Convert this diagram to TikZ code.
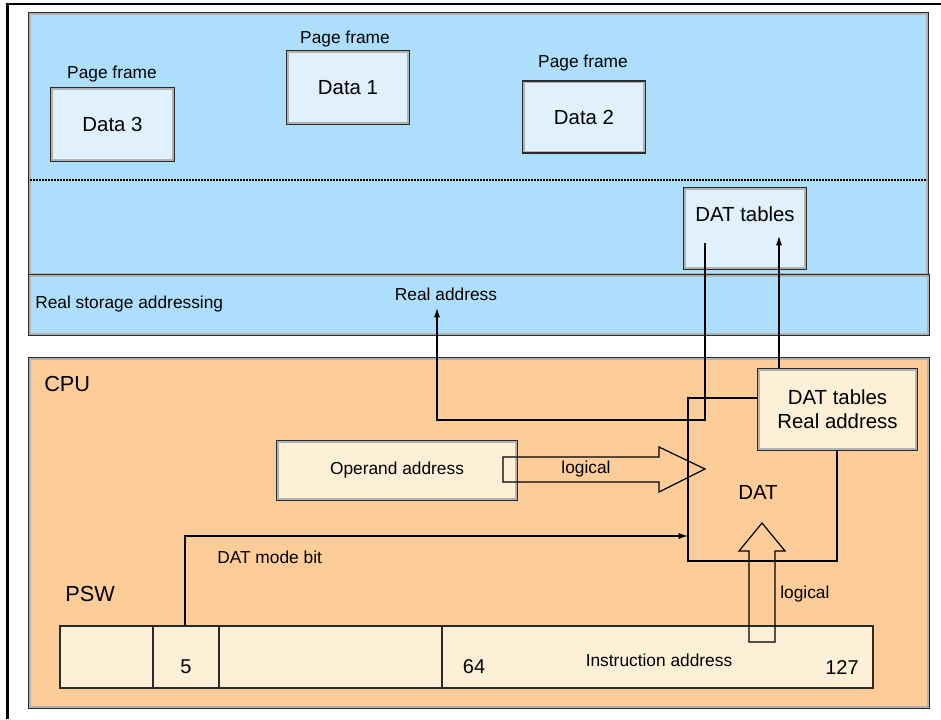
\documentclass[tikz,border=0pt]{standalone}
\usepackage{fontspec}
\setmainfont{Liberation Sans}
\usetikzlibrary{arrows.meta}
\definecolor{skyfill}{HTML}{ADDFFD}
\definecolor{skybox}{HTML}{E0F0FD}
\definecolor{orfill}{HTML}{FDCD99}
\definecolor{orbox}{HTML}{FEF0D6}
\definecolor{edge}{HTML}{2A2A2A}
\begin{document}
\begin{tikzpicture}[x=0.75pt,y=-0.75pt,
  box/.style={draw=edge, line width=1.6pt, inner sep=0pt},
  cell/.style={draw=edge, line width=1.1pt, fill=orbox, inner sep=0pt, minimum height={62*0.75pt}},
  bevel/.style={draw=black!30, line width=1.1pt},
  conn/.style={draw=black, line width=0.9pt},
  tip/.style={-{Latex[length=7pt,width=4.6pt]}},
  fat/.style={draw=black, line width=0.9pt, line join=miter},
  lbl/.style={font=\fontsize{13pt}{15pt}\selectfont, inner sep=0pt},
  big/.style={font=\fontsize{15.3pt}{18pt}\selectfont, inner sep=0pt},
  head/.style={font=\fontsize{16.3pt}{19pt}\selectfont, inner sep=0pt},
  digit/.style={font=\fontsize{15pt}{18pt}\selectfont, inner sep=0pt},
]
\useasboundingbox (0,0) rectangle (941,719);
% outer frame
\draw[line width=1.6pt] (7.5,719) -- (7.5,4.3) -- (941,4.3);

% real storage
\node[box, fill=skyfill, minimum width={899*0.75pt}, minimum height={262*0.75pt}] (mem) at (478.5,144) {};
\draw[bevel] ([shift={(1.5pt,1.5pt)}]mem.south west) rectangle ([shift={(-1.5pt,-1.5pt)}]mem.north east);
\node[box, fill=skyfill, minimum width={900*0.75pt}, minimum height={60*0.75pt}] (band) at (479,305) {};
\draw[bevel] ([shift={(1.5pt,1.5pt)}]band.south west) rectangle ([shift={(-1.5pt,-1.5pt)}]band.north east);
\node[box, fill=orfill, minimum width={900*0.75pt}, minimum height={350*0.75pt}] (cpu) at (479,533) {};
\draw[bevel] ([shift={(1.5pt,1.5pt)}]cpu.south west) rectangle ([shift={(-1.5pt,-1.5pt)}]cpu.north east);
\coordinate (dl) at (30,180);
\coordinate (dr) at (927,180);
\draw[line width=1.3pt, dash pattern=on 1.2pt off 1.05pt] (dl) -- (dr);

% page frames
\node[box, fill=skybox, big, minimum width={123*0.75pt}, minimum height={73*0.75pt}] (d3) at (112.5,124.5) {Data 3};
\node[box, fill=skybox, big, minimum width={122*0.75pt}, minimum height={73*0.75pt}] (d1) at (348,87.5) {Data 1};
\node[box, fill=skybox, big, minimum width={122*0.75pt}, minimum height={71*0.75pt}] (d2) at (584,117) {Data 2};
\node[lbl] (pf3) at (112,74) {Page frame};
\node[lbl] (pf1) at (345,39) {Page frame};
\node[lbl] (pf2) at (583,63) {Page frame};
\node[box, fill=skybox, minimum width={122*0.75pt}, minimum height={81*0.75pt}] (dtt) at (745,228.5) {};
\node[big] (dttl) at (745,214) {DAT tables};

\node[lbl, anchor=west] (rsa) at (35,304) {Real storage addressing};
\node[lbl] (ral) at (446,294) {Real address};

% CPU contents
\node[head, anchor=west] (cpul) at (44,384) {CPU};
\node[head, anchor=west] (pswl) at (65,594) {PSW};

\node[box, fill=orbox, lbl, minimum width={240*0.75pt}, minimum height={59*0.75pt}] (opa) at (397,470.5) {Operand address};

\node[draw=black, line width=2pt, minimum width={149*0.75pt}, minimum height={163*0.75pt}, inner sep=0pt] (dat) at (762.5,479.5) {};
\node[big] (datl) at (758,492) {DAT};

\node[box, fill=orbox, big, align=center, minimum width={159*0.75pt}, minimum height={81*0.75pt}] (dtr) at (837.5,409.5) {DAT tables\\Real address};

\foreach \n in {d3,d1,d2,dtt,opa,dtr}{
  \draw[bevel] ([shift={(1.5pt,1.5pt)}]\n.south west) rectangle ([shift={(-1.5pt,-1.5pt)}]\n.north east);
}

% real address path
\coordinate (dtin) at (705,243);
\coordinate (turn) at (437,420);
\coordinate (ratip) at (437,308);
\draw[conn, tip] (dtin) |- (turn) -- (ratip);
% DAT tables lookup
\coordinate (dtup) at (779,236);
\draw[conn, tip] (dtr.north -| dtup) -- (dtup);

% logical arrow from operand
\draw[fat] (503,457) -- (659,457) -- (659,447) -- (705,469) -- (659,492) -- (659,482) -- (503,482) -- cycle;
\node[lbl] (lg1) at (586,469) {logical};

% PSW
\node[cell, minimum width={93*0.75pt}] (c1) at (106.5,657) {};
\node[cell, minimum width={66*0.75pt}] (c2) at (186,657) {};
\node[cell, minimum width={223*0.75pt}] (c3) at (330.5,657) {};
\node[cell, minimum width={431*0.75pt}] (c4) at (657.5,657) {};
\node[digit] (n5) at (186,667) {5};
\node[digit] (n64) at (474,667) {64};
\node[digit] (n127) at (842,667) {127};
\node[lbl] (ia) at (659,660) {Instruction address};

% DAT mode bit
\coordinate (dmb) at (688,536);
\draw[conn, tip] (c2.north -| 185,0) |- (dmb);
\node[lbl, anchor=west] (dmbl) at (217,557) {DAT mode bit};

% logical arrow from instruction address
\draw[fat] (749,642) -- (749,551) -- (739,551) -- (762,523) -- (785,551) -- (775,551) -- (775,642) -- cycle;
\node[lbl, anchor=west] (lg2) at (780,594) {logical};
\end{tikzpicture}
\end{document}
